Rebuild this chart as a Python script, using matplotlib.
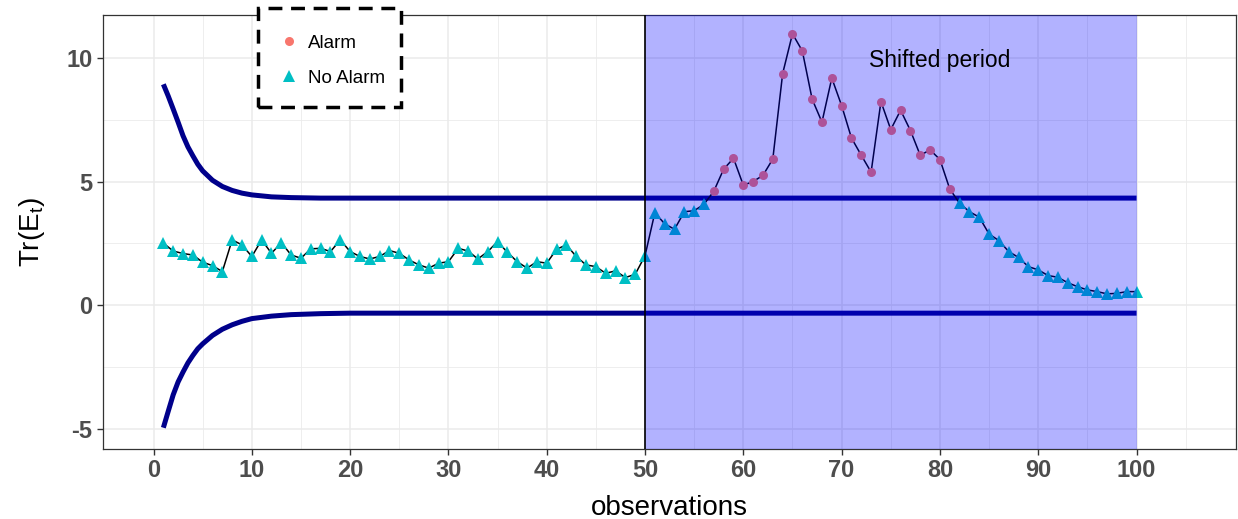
import numpy as np
import matplotlib.pyplot as plt
from matplotlib.lines import Line2D
from matplotlib.patches import Rectangle

plt.rcParams['font.family'] = ['Liberation Sans', 'DejaVu Sans']
plt.rcParams['mathtext.default'] = 'regular'
plt.rcParams['axes.unicode_minus'] = False

# observations 1..100
obs = np.arange(1, 101)

tr_e = [2.51, 2.19, 2.09, 2.03, 1.74, 1.60, 1.36, 2.64, 2.44, 1.97,
        2.64, 2.10, 2.53, 2.03, 1.90, 2.28, 2.30, 2.17, 2.64, 2.17,
        1.97, 1.87, 1.97, 2.21, 2.10, 1.83, 1.63, 1.50, 1.70, 1.76,
        2.30, 2.19, 1.87, 2.17, 2.57, 2.14, 1.76, 1.50, 1.76, 1.70,
        2.26, 2.44, 1.97, 1.63, 1.56, 1.29, 1.39, 1.12, 1.25, 2.00,
        3.74, 3.29, 3.07, 3.78, 3.82, 4.08, 4.61, 5.50, 5.94, 4.85,
        5.00, 5.25, 5.91, 9.36, 10.97, 10.28, 8.33, 7.40, 9.18, 8.07,
        6.76, 6.06, 5.38, 8.23, 7.10, 7.88, 7.06, 6.06, 6.28, 5.89,
        4.70, 4.12, 3.78, 3.56, 2.88, 2.61, 2.17, 1.93, 1.56, 1.43,
        1.20, 1.13, 0.91, 0.75, 0.62, 0.55, 0.46, 0.48, 0.55, 0.55]

# control limits
lim_t = [1, 1.5, 2, 2.5, 3, 3.5, 4, 4.5, 5, 6, 7, 8, 9, 10, 12, 14, 17, 20, 100]
ucl = [8.93, 8.45, 7.93, 7.40, 6.85, 6.40, 6.04, 5.70, 5.43, 5.05,
       4.80, 4.64, 4.53, 4.46, 4.38, 4.35, 4.33, 4.33, 4.33]
lcl = [-4.95, -4.28, -3.62, -3.10, -2.70, -2.33, -2.03, -1.76, -1.56, -1.22,
       -0.97, -0.79, -0.65, -0.54, -0.44, -0.38, -0.34, -0.32, -0.32]
ucl_final = 4.33

shift_start, shift_end = 50, 100
tr_e = np.array(tr_e)
alarm = tr_e > ucl_final

fig = plt.figure(figsize=(12.38, 5.19), dpi=100)
ax = fig.add_axes([103/1238, 1-449/519, (1236-103)/1238, (449-15)/519])

ax.set_xlim(-5.14, 110.12)
ax.set_ylim(-5.81, 11.73)
ax.set_xticks(np.arange(0, 101, 10))
ax.set_xticks(np.arange(5, 110, 10), minor=True)
ax.set_yticks([-5, 0, 5, 10])
ax.set_yticks([-2.5, 2.5, 7.5], minor=True)
ax.grid(True, which='major', color='#EBEBEB', lw=1.1, zorder=0)
ax.grid(True, which='minor', color='#EBEBEB', lw=0.6, zorder=0)
ax.set_axisbelow(True)
ax.tick_params(which='minor', length=0)
ax.tick_params(which='major', length=4, color='#333333', width=1,
               labelsize=17, labelcolor='#4D4D4D')
for lab in ax.get_xticklabels() + ax.get_yticklabels():
    lab.set_fontweight('bold')
for s in ax.spines.values():
    s.set_color('#333333')
    s.set_linewidth(0.9)

ax.plot(lim_t, ucl, color='#00008B', lw=3.6, zorder=2, solid_capstyle='butt')
ax.plot(lim_t, lcl, color='#00008B', lw=3.6, zorder=2, solid_capstyle='butt')
ax.plot(obs, tr_e, color='black', lw=1.1, zorder=3)
ax.plot(obs[alarm], tr_e[alarm], 'o', color='#F8766D', ms=6.5, mew=0, zorder=4)
ax.plot(obs[~alarm], tr_e[~alarm], '^', color='#00BFC4', ms=8.5, mew=0, zorder=4)

ax.axvspan(shift_start, shift_end, color='blue', alpha=0.3, lw=0, zorder=5)
ax.axvline(shift_start, color='black', lw=1.2, zorder=6)
ax.text(80, 9.91, 'Shifted period', fontsize=16.5, ha='center', va='center', zorder=7)

ax.set_xlabel('observations', fontsize=20, labelpad=9)
ax.set_ylabel('Tr(E$_t$)', fontsize=20, labelpad=14)

# dashed legend box
box = Rectangle((0.1368, 0.788), 0.1262, 0.2281, transform=ax.transAxes,
                facecolor='white', edgecolor='black', lw=2.5,
                linestyle=(0, (4, 2.5)), clip_on=False, zorder=9)
ax.add_patch(box)

handles = [Line2D([], [], marker='o', ls='', color='#F8766D', ms=6.5, mew=0),
           Line2D([], [], marker='^', ls='', color='#00BFC4', ms=8.5, mew=0)]
leg = ax.legend(handles, ['Alarm', 'No Alarm'], loc='upper left',
                bbox_to_anchor=(0.1559, 0.9551), fontsize=13.5, frameon=False,
                borderpad=0, labelspacing=0.96, handletextpad=0.51,
                handlelength=1.0, borderaxespad=0)
leg.set_zorder(10)

fig.savefig('out.png', dpi=100)
